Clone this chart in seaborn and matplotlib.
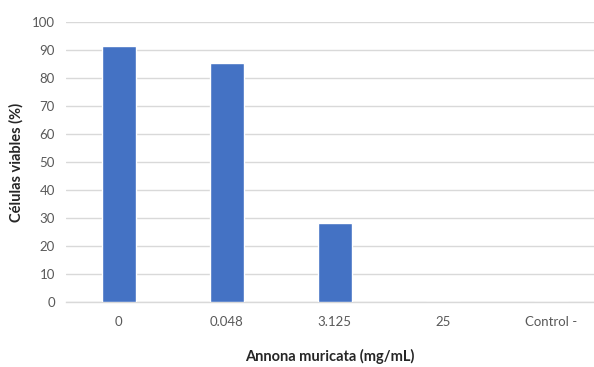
import matplotlib
matplotlib.use("Agg")
import matplotlib.pyplot as plt
import seaborn as sns
import pandas as pd

concentrations = ["0", "0.048", "3.125", "25", "Control -"]
viable_cells = [91.6, 85.5, 28.5, 0, 0]

sns.set_theme(style="white")
plt.rcParams['font.family'] = ['Lato', 'DejaVu Sans']

df = pd.DataFrame({"conc": concentrations, "viable": viable_cells})

fig = plt.figure(figsize=(5.94, 3.67), dpi=100)
ax = fig.add_axes([0.111, 0.176, 0.889, 0.763])

sns.barplot(data=df, x="conc", y="viable", color="#4472C4", saturation=1,
            width=0.31, ax=ax, zorder=3)

ax.set_ylim(0, 100)
ax.set_yticks(range(0, 101, 10))
ax.set_xlim(-0.49, 4.4)
ax.yaxis.grid(True, color="#d9d9d9", lw=1, zorder=0)
ax.set_axisbelow(True)
for s in ["top", "right", "left"]:
    ax.spines[s].set_visible(False)
ax.spines["bottom"].set_color("#d9d9d9")
ax.spines["bottom"].set_linewidth(1)

ax.tick_params(axis="y", length=0, pad=8, labelsize=9.5, labelcolor="#595959")
ax.tick_params(axis="x", length=0, pad=10, labelsize=9.5, labelcolor="#595959")

ax.set_xlabel("Annona muricata (mg/mL)", fontsize=10.5, fontweight="bold",
              color="#262626", labelpad=15)
ax.set_ylabel("Células viables (%)", fontsize=10.5, fontweight="bold",
              color="#262626", labelpad=6)

fig.savefig("out.png", dpi=100)
